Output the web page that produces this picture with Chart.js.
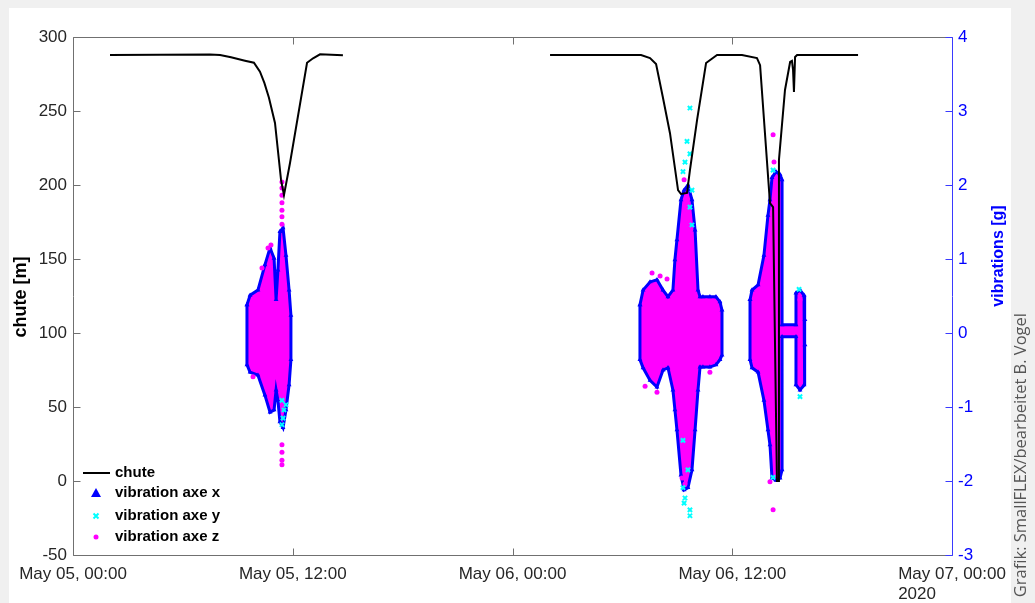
<!DOCTYPE html>
<html>
<head>
<meta charset="utf-8">
<script src="https://cdn.jsdelivr.net/npm/chart.js@4.4.1/dist/chart.umd.min.js"></script>
<style>
  html, body { margin: 0; padding: 0; background: #f0f0f0; }
  #wrap { position: relative; width: 1035px; height: 603px; }
</style>
</head>
<body>
<div id="wrap"><canvas id="chart" width="1035" height="603"></canvas></div>
<script>
// x values are hours since May 05, 00:00
const xTickHours = [0, 12, 24, 36, 48];
const xTickLabels = ['May 05, 00:00', 'May 05, 12:00', 'May 06, 00:00', 'May 06, 12:00', 'May 07, 00:00'];
const yearLabel = '2020';

// chute [m] (null = no data between the two runs)
const chuteHours = [2.02, 7.48, 8.03, 8.63, 9.39, 9.88, 10.21, 10.45, 10.70, 11.03, 11.36, 11.52, 11.85, 12.78, 13.11, 13.49, 14.74,
  20,
  26.05, 30.25, 31.02, 31.51, 31.84, 32.20, 32.60, 33.04, 33.20, 33.53, 33.69, 34.08, 34.57, 35.17, 36.53, 37.35, 37.52,
  38.06, 38.23, 38.44, 38.50, 38.55, 38.88, 39.16, 39.26, 39.32, 39.37, 39.43, 39.54, 42.87];
const chuteMeters = [287.8, 288.2, 287.8, 286.3, 284.0, 282.6, 276.6, 269.0, 259.0, 241.9, 203.4, 193.2, 214.9, 282.6, 285.6, 288.3, 287.6,
  null,
  287.8, 287.8, 287.8, 285.8, 281.8, 260.0, 235.0, 196.6, 193.9, 194.6, 210.0, 244.0, 282.4, 287.8, 287.8, 285.8, 281.0,
  187.8, 185.1, 0, 0, 216.9, 264.2, 283.1, 283.8, 277.7, 262.8, 286.5, 287.8, 287.8];

// vibration clouds [g]: outer envelope of the dense point clouds
const cloudAHours = [9.50, 9.67, 10.10, 10.48, 10.76, 10.98, 11.09, 11.19, 11.30, 11.47, 11.63, 11.80, 11.90];
const cloudAHigh = [0.38, 0.51, 0.58, 0.92, 1.15, 1.01, 0.45, 0.85, 1.37, 1.42, 1.05, 0.58, 0.24];
const cloudALow = [-0.43, -0.53, -0.57, -0.84, -1.07, -1.04, -0.77, -0.91, -1.20, -1.28, -1.04, -0.70, -0.36];

const cloudBHours = [30.96, 31.13, 31.51, 31.89, 32.22, 32.49, 32.76, 32.87, 32.98, 33.20, 33.37, 33.58, 33.80, 33.97, 34.13, 34.24, 34.40, 34.78, 35.11, 35.33, 35.44];
const cloudBHigh = [0.38, 0.58, 0.69, 0.72, 0.58, 0.49, 0.58, 0.99, 1.26, 1.80, 1.93, 2.00, 1.80, 1.39, 0.58, 0.49, 0.49, 0.49, 0.49, 0.42, 0.31];
const cloudBLow = [-0.36, -0.47, -0.64, -0.73, -0.50, -0.47, -0.77, -1.04, -1.31, -1.92, -2.12, -2.09, -1.85, -1.31, -0.77, -0.46, -0.46, -0.46, -0.43, -0.36, -0.30];

const cloudCHours = [36.97, 37.08, 37.41, 37.73, 37.95, 38.06, 38.17, 38.39, 38.61, 38.72, 38.72, 39.48, 39.48, 39.70, 39.92, 39.97];
const cloudCHigh = [0.45, 0.58, 0.65, 1.05, 1.59, 1.80, 2.10, 2.18, 2.14, 2.07, 0.11, 0.11, 0.54, 0.58, 0.51, 0.18];
const cloudCLow = [-0.36, -0.47, -0.53, -0.91, -1.31, -1.51, -1.96, -1.99, -1.96, -1.85, -0.05, -0.05, -0.70, -0.77, -0.70, -0.16];

// isolated points outside the clouds
const axeYHours = [11.41, 11.52, 11.47, 11.41, 11.63, 33.69, 33.53, 33.69, 33.42, 33.31, 33.80, 33.69, 33.80,
  33.31, 33.58, 33.31, 33.42, 33.37, 33.69, 33.69, 38.23, 38.23, 39.65, 39.70];
const axeYValues = [-0.91, -1.04, -1.15, -1.24, -0.97, 3.04, 2.59, 2.42, 2.31, 2.18, 1.93, 1.70, 1.46,
  -1.45, -1.85, -2.09, -2.23, -2.30, -2.39, -2.47, 2.20, -1.95, 0.59, -0.86];

const axeZHours = [11.41, 11.41, 11.41, 11.41, 11.41, 11.41, 11.41, 11.41, 11.41, 11.41, 11.41, 10.65, 10.81, 10.32, 9.83,
  31.62, 32.06, 32.44, 31.24, 31.89, 34.78, 33.37, 33.26, 33.42, 38.23, 38.28, 38.23, 38.06, 39.70];
const axeZValues = [2.04, 1.96, 1.86, 1.76, 1.66, 1.57, 1.47, -1.51, -1.61, -1.72, -1.78, 1.15, 1.19, 0.88, -0.59,
  0.81, 0.77, 0.73, -0.72, -0.80, -0.53, 2.07, -1.96, -2.04, 2.68, 2.31, -2.39, -2.01, 0.45];

const FONT = '"Liberation Sans", Arial, sans-serif';
const BLUE = '#0000ff';
const MAGENTA = '#ff00ff';
const CYAN = '#00ffff';

const toPts = (xs, ys) => xs.map((x, i) => ({ x: x, y: ys[i] }));

// magenta filled cloud plus a closed blue outline (axe x triangles on the edge)
function cloudSets(hours, high, low) {
  const upper = toPts(hours, high);
  const lower = toPts(hours, low);
  const outline = upper.concat(lower.slice().reverse(), [upper[0]]);
  return [
    {
      data: outline,
      yAxisID: 'y2',
      borderColor: BLUE,
      borderWidth: 3,
      pointStyle: 'triangle',
      pointRadius: 2.8,
      pointBackgroundColor: BLUE,
      pointBorderColor: BLUE,
      pointBorderWidth: 0,
      tension: 0,
      fill: false
    },
    { data: upper, yAxisID: 'y2', fill: '+1', backgroundColor: MAGENTA, borderWidth: 0, pointRadius: 0, tension: 0 },
    { data: lower, yAxisID: 'y2', fill: false, borderWidth: 0, pointRadius: 0, tension: 0 }
  ];
}

// box, inward ticks, titles, legend and credit
const decorPlugin = {
  id: 'decor',
  beforeDraw(chart) {
    const ctx = chart.ctx;
    ctx.save();
    ctx.fillStyle = '#f0f0f0';
    ctx.fillRect(0, 0, chart.width, chart.height);
    ctx.fillStyle = '#ffffff';
    ctx.fillRect(9, 8, 1002, 595);
    ctx.restore();
  },
  afterDraw(chart) {
    const ctx = chart.ctx;
    const a = chart.chartArea;
    const sx = chart.scales.x, sy = chart.scales.y, sy2 = chart.scales.y2;
    const L = Math.round(a.left) + 0.5, R = Math.round(a.right) + 0.5;
    const T = Math.round(a.top) + 0.5, B = Math.round(a.bottom) + 0.5;
    ctx.save();
    ctx.lineWidth = 1;

    // gray part of the box
    ctx.strokeStyle = '#707070';
    ctx.beginPath();
    ctx.moveTo(L, T); ctx.lineTo(L, B); ctx.lineTo(R, B);
    ctx.moveTo(L, T); ctx.lineTo(R, T);
    sx.ticks.forEach(t => {
      const px = Math.round(sx.getPixelForValue(t.value)) + 0.5;
      ctx.moveTo(px, B); ctx.lineTo(px, B - 7);
      ctx.moveTo(px, T); ctx.lineTo(px, T + 7);
    });
    sy.ticks.forEach(t => {
      const py = Math.round(sy.getPixelForValue(t.value)) + 0.5;
      ctx.moveTo(L, py); ctx.lineTo(L + 7, py);
    });
    ctx.stroke();

    // right axis in blue
    ctx.strokeStyle = '#3a3aff';
    ctx.beginPath();
    ctx.moveTo(R, T); ctx.lineTo(R, B);
    sy2.ticks.forEach(t => {
      const py = Math.round(sy2.getPixelForValue(t.value)) + 0.5;
      ctx.moveTo(R, py); ctx.lineTo(R - 7, py);
    });
    ctx.stroke();

    // year under last x label
    ctx.font = '17px ' + FONT;
    ctx.fillStyle = '#262626';
    ctx.textBaseline = 'top';
    ctx.textAlign = 'left';
    const lastW = ctx.measureText(xTickLabels[xTickLabels.length - 1]).width;
    ctx.fillText(yearLabel, sx.getPixelForValue(48) - lastW / 2, 586);

    // axis titles
    ctx.textAlign = 'center';
    ctx.textBaseline = 'middle';
    ctx.save();
    ctx.translate(21, 297);
    ctx.rotate(-Math.PI / 2);
    ctx.font = 'bold 18px ' + FONT;
    ctx.fillStyle = '#000000';
    ctx.fillText('chute [m]', 0, 0);
    ctx.restore();

    ctx.save();
    ctx.translate(999, 256);
    ctx.rotate(-Math.PI / 2);
    ctx.font = 'bold 16px ' + FONT;
    ctx.fillStyle = BLUE;
    ctx.fillText('vibrations [g]', 0, 0);
    ctx.restore();

    // credit
    ctx.save();
    ctx.translate(1021, 313);
    ctx.rotate(-Math.PI / 2);
    ctx.textAlign = 'right';
    ctx.font = '16.5px "Open Sans", sans-serif';
    ctx.fillStyle = '#555555';
    ctx.fillText('Grafik: SmallFLEX/bearbeitet B. Vogel', 0, 0);
    ctx.restore();

    // legend
    const lx = a.left + 23, tx = a.left + 42;
    const rows = [473, 493, 516, 537];
    ctx.font = 'bold 15px ' + FONT;
    ctx.fillStyle = '#000000';
    ctx.textAlign = 'left';
    ctx.fillText('chute', tx, rows[0]);
    ctx.fillText('vibration axe x', tx, rows[1]);
    ctx.fillText('vibration axe y', tx, rows[2]);
    ctx.fillText('vibration axe z', tx, rows[3]);

    ctx.strokeStyle = '#000000';
    ctx.lineWidth = 2;
    ctx.beginPath();
    ctx.moveTo(a.left + 10, rows[0]); ctx.lineTo(a.left + 37, rows[0]);
    ctx.stroke();

    ctx.fillStyle = BLUE;
    ctx.beginPath();
    ctx.moveTo(lx, rows[1] - 5); ctx.lineTo(lx + 5, rows[1] + 4); ctx.lineTo(lx - 5, rows[1] + 4);
    ctx.closePath();
    ctx.fill();

    ctx.strokeStyle = CYAN;
    ctx.lineWidth = 2;
    ctx.beginPath();
    ctx.moveTo(lx - 2.5, rows[2] - 2.5); ctx.lineTo(lx + 2.5, rows[2] + 2.5);
    ctx.moveTo(lx + 2.5, rows[2] - 2.5); ctx.lineTo(lx - 2.5, rows[2] + 2.5);
    ctx.stroke();

    ctx.fillStyle = MAGENTA;
    ctx.beginPath();
    ctx.arc(lx, rows[3], 2.5, 0, Math.PI * 2);
    ctx.fill();

    ctx.restore();
  }
};

new Chart(document.getElementById('chart'), {
  type: 'line',
  data: {
    datasets: [
      {
        label: 'chute',
        data: toPts(chuteHours, chuteMeters),
        yAxisID: 'y',
        borderColor: '#000000',
        borderWidth: 2,
        pointRadius: 0,
        spanGaps: false,
        tension: 0,
        fill: false
      },
      {
        label: 'vibration axe y',
        data: toPts(axeYHours, axeYValues),
        yAxisID: 'y2',
        showLine: false,
        pointStyle: 'crossRot',
        pointRadius: 3,
        pointBorderColor: CYAN,
        pointBorderWidth: 2
      },
      {
        label: 'vibration axe z',
        data: toPts(axeZHours, axeZValues),
        yAxisID: 'y2',
        showLine: false,
        pointStyle: 'circle',
        pointRadius: 2.5,
        pointBackgroundColor: MAGENTA,
        pointBorderColor: MAGENTA,
        pointBorderWidth: 0
      },
      ...cloudSets(cloudAHours, cloudAHigh, cloudALow),
      ...cloudSets(cloudBHours, cloudBHigh, cloudBLow),
      ...cloudSets(cloudCHours, cloudCHigh, cloudCLow)
    ]
  },
  options: {
    responsive: false,
    animation: false,
    events: [],
    layout: { padding: { top: 37, left: 0, right: 0, bottom: 0 } },
    plugins: {
      legend: { display: false },
      tooltip: { enabled: false }
    },
    scales: {
      x: {
        type: 'linear',
        position: 'bottom',
        min: 0,
        max: 48,
        grid: { display: false, drawTicks: false },
        border: { display: false },
        ticks: {
          stepSize: 12,
          autoSkip: false,
          maxRotation: 0,
          padding: 9,
          color: '#262626',
          font: { family: FONT, size: 17 },
          callback: v => {
            const i = xTickHours.indexOf(v);
            return i >= 0 ? xTickLabels[i] : '';
          }
        },
        afterFit: s => { s.height = 48; }
      },
      y: {
        type: 'linear',
        position: 'left',
        min: -50,
        max: 300,
        grid: { display: false, drawTicks: false },
        border: { display: false },
        ticks: { stepSize: 50, padding: 6, color: '#262626', font: { family: FONT, size: 17 } },
        afterFit: s => { s.width = 73; }
      },
      y2: {
        type: 'linear',
        position: 'right',
        min: -3,
        max: 4,
        grid: { display: false, drawTicks: false },
        border: { display: false },
        ticks: { stepSize: 1, padding: 6, color: BLUE, font: { family: FONT, size: 17 } },
        afterFit: s => { s.width = 83; }
      }
    }
  },
  plugins: [decorPlugin]
});
</script>
</body>
</html>
